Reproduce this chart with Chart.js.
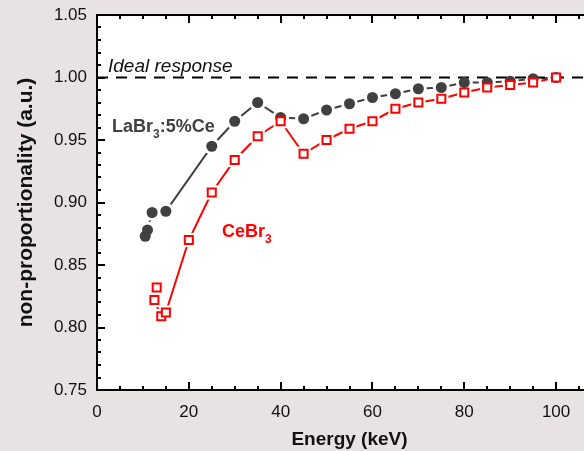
<!DOCTYPE html>
<html lang="en">
<head>
  <meta charset="UTF-8">
  <title>Non-proportionality LaBr3 vs CeBr3</title>
  <script src="https://cdn.jsdelivr.net/npm/chart.js"></script>
  <style>
    * {
      margin: 0;
      padding: 0;
    }
    body {
      width: 584px;
      height: 451px;
      overflow: hidden;
      background-color: #e8e2e2;
    }
    #chart-box {
      width: 640px;
      height: 451px;
    }
  </style>
</head>
<body>
  <div id="chart-box">
    <canvas id="np-chart"></canvas>
  </div>

  <script>
    // LaBr3:5%Ce (dark circles)
    var energyLa = [10.5, 11, 12, 15, 25, 30, 35, 40, 45, 50, 55, 60, 65, 70, 75, 80, 85, 90, 95, 100];
    var labrValues = [0.873, 0.878, 0.892, 0.893, 0.945, 0.965, 0.980, 0.968, 0.967, 0.974, 0.979, 0.984, 0.987, 0.991, 0.992, 0.996, 0.996, 0.997, 0.999, 1.000];

    // CeBr3 (red open squares)
    var energyCe = [13, 12.5, 14, 15, 20, 25, 30, 35, 40, 45, 50, 55, 60, 65, 70, 75, 80, 85, 90, 95, 100];
    var cebrValues = [0.832, 0.822, 0.809, 0.812, 0.870, 0.908, 0.934, 0.953, 0.965, 0.939, 0.950, 0.959, 0.965, 0.975, 0.980, 0.983, 0.988, 0.992, 0.994, 0.996, 1.000];

    var idealValue = 1.0;
    var xTicks = [0, 20, 40, 60, 80, 100];
    var yTicks = [0.75, 0.80, 0.85, 0.90, 0.95, 1.00, 1.05];

    var GRAY = '#404040';
    var RED = '#ff0000';
    var FONT = '"Liberation Sans", Arial, sans-serif';

    function toPoints(xs, ys) {
      return xs.map(function(x, i) { return { x: x, y: ys[i] }; });
    }
    var labrPts = toPoints(energyLa, labrValues);
    var cebrPts = toPoints(energyCe, cebrValues);

    // white plot area, frame with inward ticks, annotations
    var framePlugin = {
      id: 'frame',
      beforeDraw: function(chart) {
        var a = chart.chartArea, ctx = chart.ctx;
        ctx.save();
        ctx.fillStyle = '#ffffff';
        ctx.fillRect(a.left, a.top, a.right - a.left, a.bottom - a.top);
        ctx.restore();
      },
      afterDatasetsDraw: function(chart) {
        var a = chart.chartArea, ctx = chart.ctx;
        var xs = chart.scales.x, ys = chart.scales.y;
        ctx.save();
        ctx.strokeStyle = '#000';
        ctx.lineWidth = 2;
        ctx.beginPath();
        ctx.moveTo(a.left, a.top);
        ctx.lineTo(a.right, a.top);
        ctx.moveTo(a.left, a.top - 1);
        ctx.lineTo(a.left, a.bottom + 1);
        ctx.moveTo(a.left, a.bottom);
        ctx.lineTo(a.right, a.bottom);
        // x ticks every 5, major every 20
        for (var i = 0; i <= 22; i++) {
          var px = Math.round(xs.getPixelForValue(i * 5));
          var len = (i % 4 === 0) ? 8 : 4;
          ctx.moveTo(px, a.bottom);
          ctx.lineTo(px, a.bottom - len);
          ctx.moveTo(px, a.top);
          ctx.lineTo(px, a.top + len);
        }
        // y ticks every 0.01, major every 0.05
        for (var j = 0; j <= 30; j++) {
          var py = Math.round(ys.getPixelForValue(0.75 + j * 0.01));
          var l2 = (j % 5 === 0) ? 8 : 4;
          ctx.moveTo(a.left, py);
          ctx.lineTo(a.left + l2, py);
        }
        ctx.stroke();
        ctx.restore();
      },
      afterDraw: function(chart) {
        var ctx = chart.ctx;
        var xs = chart.scales.x, ys = chart.scales.y;
        ctx.save();
        ctx.textBaseline = 'alphabetic';
        ctx.textAlign = 'left';

        ctx.fillStyle = '#111';
        ctx.font = 'italic 19px ' + FONT;
        ctx.fillText('Ideal response', xs.getPixelForValue(2.4), ys.getPixelForValue(idealValue) - 6);

        function subLabel(main, sub, rest, x, y, color) {
          ctx.fillStyle = color;
          ctx.font = 'bold 18px ' + FONT;
          ctx.fillText(main, x, y);
          x += ctx.measureText(main).width;
          ctx.font = 'bold 12px ' + FONT;
          ctx.fillText(sub, x, y + 6);
          x += ctx.measureText(sub).width;
          if (rest) {
            ctx.font = 'bold 18px ' + FONT;
            ctx.fillText(rest, x, y);
          }
        }
        subLabel('LaBr', '3', ':5%Ce', 112, 132, GRAY);
        subLabel('CeBr', '3', '', 222, 237, RED);
        ctx.restore();
      }
    };

    var ctx = document.getElementById('np-chart').getContext('2d');
    var myChart = new Chart(ctx, {
      type: 'line',
      data: {
        datasets: [
          {
            label: 'LaBr3 line',
            data: labrPts,
            borderColor: GRAY,
            borderWidth: 2,
            pointRadius: 0,
            order: 10
          },
          {
            label: 'CeBr3 line',
            data: cebrPts,
            borderColor: RED,
            borderWidth: 2,
            pointRadius: 0,
            order: 9
          },
          {
            // white halo so lines stop short of the markers
            label: 'LaBr3 halo',
            data: labrPts,
            showLine: false,
            pointStyle: 'circle',
            pointRadius: 8.5,
            pointBorderWidth: 0,
            pointBackgroundColor: '#ffffff',
            order: 8
          },
          {
            label: 'CeBr3 halo',
            data: cebrPts,
            showLine: false,
            pointStyle: 'rect',
            pointRadius: 10,
            pointBorderWidth: 0,
            pointBackgroundColor: '#ffffff',
            order: 7
          },
          {
            label: 'Ideal response',
            data: [{ x: 0, y: idealValue }, { x: 110, y: idealValue }],
            borderColor: '#000',
            borderWidth: 2,
            borderDash: [11, 8],
            pointRadius: 0,
            order: 6
          },
          {
            label: 'LaBr3:5%Ce',
            data: labrPts,
            showLine: false,
            pointStyle: 'circle',
            pointRadius: 5.5,
            pointBorderWidth: 0,
            pointBackgroundColor: GRAY,
            order: 5
          },
          {
            label: 'CeBr3',
            data: cebrPts,
            showLine: false,
            pointStyle: 'rect',
            pointRadius: 5.7,
            pointBorderWidth: 2,
            pointBorderColor: RED,
            pointBackgroundColor: '#ffffff',
            order: 4
          }
        ]
      },
      options: {
        responsive: true,
        maintainAspectRatio: false,
        animation: false,
        layout: {
          padding: { top: 15, right: 38, left: 0, bottom: 0 }
        },
        plugins: {
          legend: { display: false },
          tooltip: { enabled: false }
        },
        scales: {
          x: {
            type: 'linear',
            min: 0,
            max: 110,
            grid: { display: false, drawTicks: false },
            border: { display: false },
            afterFit: function(s) {
              s.height = 61;
              s.paddingLeft = 0;
              s.paddingRight = 0;
            },
            afterBuildTicks: function(s) {
              s.ticks = xTicks.map(function(v) { return { value: v }; });
            },
            ticks: {
              padding: 12,
              color: '#111',
              font: { family: FONT, size: 17 }
            },
            title: {
              display: true,
              text: 'Energy (keV)',
              color: '#111',
              font: { family: FONT, size: 19, weight: 'bold' },
              padding: { top: 0, bottom: 0 }
            }
          },
          y: {
            min: 0.75,
            max: 1.05,
            grid: { display: false, drawTicks: false },
            border: { display: false },
            afterFit: function(s) {
              s.width = 97;
              s.paddingTop = 0;
              s.paddingBottom = 0;
            },
            afterBuildTicks: function(s) {
              s.ticks = yTicks.map(function(v) { return { value: v }; });
            },
            ticks: {
              padding: 10,
              color: '#111',
              font: { family: FONT, size: 17 },
              callback: function(v) { return Number(v).toFixed(2); }
            },
            title: {
              display: true,
              text: 'non-proportionality (a.u.)',
              color: '#111',
              font: { family: FONT, size: 21, weight: 'bold' },
              padding: { top: 14, bottom: 0 }
            }
          }
        }
      },
      plugins: [framePlugin]
    });
  </script>
</body>
</html>
